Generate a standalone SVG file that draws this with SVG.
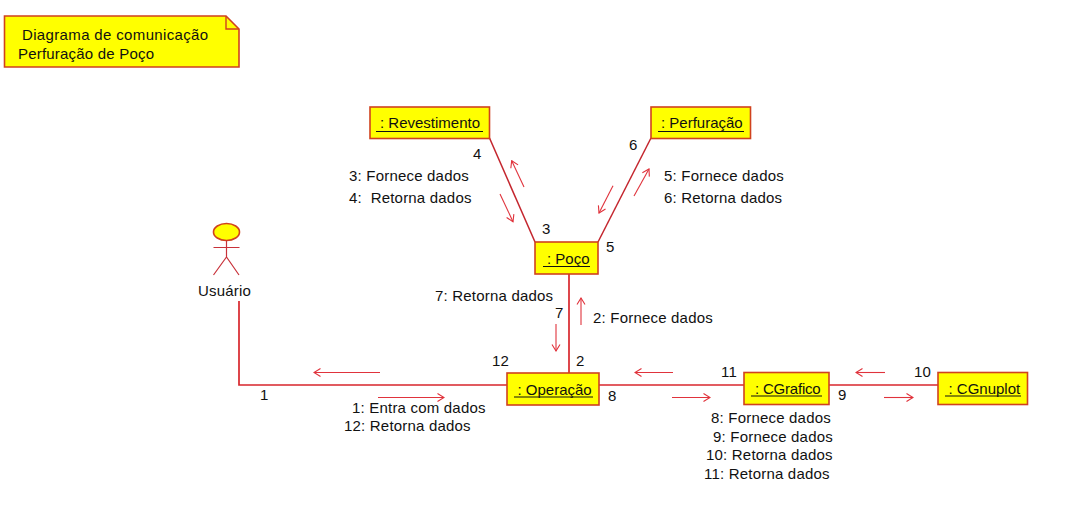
<svg xmlns="http://www.w3.org/2000/svg" width="1078" height="512" viewBox="0 0 1078 512">
<style>
text{font-family:"Liberation Sans",Arial,sans-serif;font-size:15px;letter-spacing:.2px;fill:#111;white-space:pre}
.t{letter-spacing:.35px}
.b{letter-spacing:0}
.n{fill:#ffff00;stroke:#d0421e;stroke-width:1.6}
.f{fill:none;stroke:#d0421e;stroke-width:1.4}
.c{fill:none;stroke:#d8262c;stroke-width:1.7}
.d{fill:none;stroke:#c4262e;stroke-width:1.5}
.m{fill:none;stroke:#e0333c;stroke-width:1.1;marker-end:url(#a)}
.a{fill:none;stroke:#c8323a;stroke-width:1.2}
.u{stroke:#111;stroke-width:1.1}
</style>
<defs><marker id="a" viewBox="0 0 10 10" refX="9" refY="5" markerUnits="userSpaceOnUse" markerWidth="10" markerHeight="10" orient="auto"><path d="M2.500 1L9 5L2.500 9" fill="none" stroke="#e0333c" stroke-width="1.1"/></marker></defs>
<rect width="1078" height="512" fill="#fff"/>
<g id="connectors">
<path class="c" d="M239 301V385H507"/><path class="d" d="M489.500 138L535 242"/><path class="d" d="M651 138L598 242"/><path class="c" d="M569 274V373"/><path class="c" d="M599 385H744"/><path class="c" d="M829 385H938"/>
<path class="m" d="M380 372.500H314"/><path class="m" d="M378 397.500H444"/><path class="m" d="M524 187L511.700 160.700"/><path class="m" d="M500 194L513 221.700"/><path class="m" d="M613 185.700L599 213"/><path class="m" d="M634 196L649 169"/><path class="m" d="M581 325V298"/><path class="m" d="M556 324V351"/><path class="m" d="M673 372.500H635"/><path class="m" d="M672 397.500H710"/><path class="m" d="M885 372.500H856"/><path class="m" d="M884 397.500H913"/>
</g>
<g id="note"><path class="n" d="M4.500 16H226L239 29V67H4.500Z"/><path class="f" d="M226 16V29H239"/><text class="t" x="22" y="40">Diagrama de comunicação</text><text x="18" y="59">Perfuração de Poço</text></g>
<g id="revestimento"><rect class="n" x="370" y="107" width="119.500" height="31.500"/><text class="b" x="380" y="128">: Revestimento</text><path class="u" d="M376 131.500H483"/></g>
<g id="perfuracao"><rect class="n" x="651" y="107" width="99.500" height="31.500"/><text class="b" x="661" y="128">: Perfuração</text><path class="u" d="M658 131.500H744"/></g>
<g id="poco"><rect class="n" x="535" y="242" width="63" height="32"/><text class="b" x="547" y="264">: Poço</text><path class="u" d="M543 266.500H590"/></g>
<g id="operacao"><rect class="n" x="507" y="373" width="92" height="32"/><text class="b" x="517.500" y="395">: Operação</text><path class="u" d="M514 397H593"/></g>
<g id="cgrafico"><rect class="n" x="744" y="372.500" width="85" height="32"/><text class="b" x="755" y="394" style="letter-spacing:-.2px">: CGrafico</text><path class="u" d="M751 396H822"/></g>
<g id="cgnuplot"><rect class="n" x="938" y="372.500" width="89.500" height="32"/><text class="b" x="948.500" y="394">: CGnuplot</text><path class="u" d="M945 396H1021"/></g>
<g id="usuario"><ellipse class="n" cx="226.500" cy="232" rx="13" ry="8.500"/><path class="a" d="M226.500 240.500V257M213.500 247.500H239.500M213.500 275L226.500 257L239 275"/><text x="198" y="296">Usuário</text></g>
<g id="labels">
<text x="260" y="400">1</text><text x="473" y="159">4</text><text x="542" y="234">3</text><text x="629" y="150">6</text><text x="606" y="252">5</text><text x="555" y="318">7</text><text x="576" y="366">2</text><text x="492" y="366">12</text><text x="608" y="401">8</text><text x="721" y="377">11</text><text x="838" y="400">9</text><text x="914" y="377">10</text>
<text x="349" y="181">3: Fornece dados</text><text x="349" y="203">4:  Retorna dados</text>
<text x="664" y="181">5: Fornece dados</text><text x="664" y="203">6: Retorna dados</text>
<text x="435" y="301">7: Retorna dados</text><text x="593" y="323">2: Fornece dados</text>
<text x="352" y="413">1: Entra com dados</text><text x="344" y="431">12: Retorna dados</text>
<text x="711" y="423">8: Fornece dados</text><text x="713" y="442">9: Fornece dados</text><text x="706" y="460">10: Retorna dados</text><text x="704" y="479">11: Retorna dados</text>
</g>
</svg>
